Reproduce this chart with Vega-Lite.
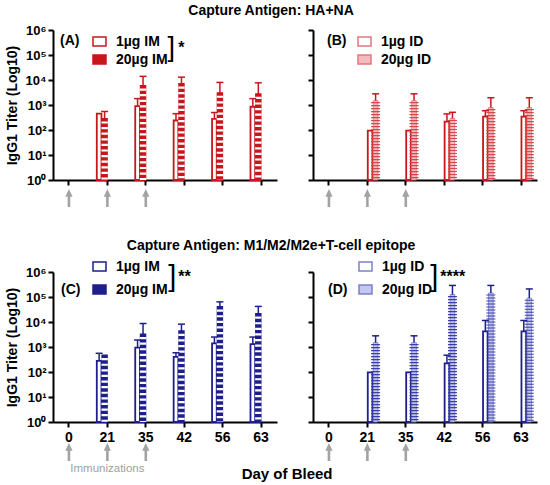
{
  "$schema": "https://vega.github.io/schema/vega-lite/v6.json",
  "background": "white",
  "padding": {"left": 5, "right": 2, "top": 4, "bottom": 4},
  "config": {
    "view": {"stroke": null},
    "font": "Liberation Sans",
    "axis": {
      "grid": false,
      "domainColor": "black",
      "domainWidth": 2,
      "tickColor": "black",
      "tickWidth": 2,
      "tickSize": 5,
      "labelColor": "black",
      "labelFont": "Liberation Sans",
      "labelFontWeight": "bold",
      "labelFontSize": 13,
      "titleColor": "black",
      "titleFont": "Liberation Sans",
      "titleFontSize": 14,
      "titleFontWeight": "bold"
    },
    "legend": {
      "orient": "none",
      "titleOrient": "left",
      "titleFont": "Liberation Sans",
      "titleFontSize": 14,
      "titleFontWeight": "bold",
      "titleColor": "black",
      "labelFont": "Liberation Sans",
      "labelFontSize": 14,
      "labelFontWeight": "bold",
      "labelColor": "black",
      "labelOffset": 9,
      "symbolSize": 169,
      "symbolType": "M-1,-0.7H1V0.7H-1Z"
    }
  },
  "title": {"text": "Day of Bleed", "orient": "bottom", "anchor": "middle", "fontSize": 15, "fontWeight": "bold", "color": "black", "offset": -8, "dx": 16},
  "datasets": {
    "titers": [
      {"panel": "A", "day": "21", "dose": "1µg IM", "v": 450, "e": null},
      {"panel": "A", "day": "21", "dose": "20µg IM", "v": 280, "e": 550},
      {"panel": "A", "day": "35", "dose": "1µg IM", "v": 900, "e": 1800},
      {"panel": "A", "day": "35", "dose": "20µg IM", "v": 5800, "e": 14000},
      {"panel": "A", "day": "42", "dose": "1µg IM", "v": 240, "e": 450},
      {"panel": "A", "day": "42", "dose": "20µg IM", "v": 7000, "e": 13000},
      {"panel": "A", "day": "56", "dose": "1µg IM", "v": 280, "e": 500},
      {"panel": "A", "day": "56", "dose": "20µg IM", "v": 3000, "e": 8000},
      {"panel": "A", "day": "63", "dose": "1µg IM", "v": 850, "e": 1800},
      {"panel": "A", "day": "63", "dose": "20µg IM", "v": 2700, "e": 7700},
      {"panel": "B", "day": "21", "dose": "1µg ID", "v": 95, "e": null},
      {"panel": "B", "day": "21", "dose": "20µg ID", "v": 1500, "e": 2800},
      {"panel": "B", "day": "35", "dose": "1µg ID", "v": 95, "e": null},
      {"panel": "B", "day": "35", "dose": "20µg ID", "v": 1500, "e": 2800},
      {"panel": "B", "day": "42", "dose": "1µg ID", "v": 215, "e": 440},
      {"panel": "B", "day": "42", "dose": "20µg ID", "v": 290, "e": 510},
      {"panel": "B", "day": "56", "dose": "1µg ID", "v": 340, "e": 590},
      {"panel": "B", "day": "56", "dose": "20µg ID", "v": 790, "e": 1950},
      {"panel": "B", "day": "63", "dose": "1µg ID", "v": 340, "e": 590},
      {"panel": "B", "day": "63", "dose": "20µg ID", "v": 790, "e": 1950},
      {"panel": "C", "day": "21", "dose": "1µg IM", "v": 280, "e": 560},
      {"panel": "C", "day": "21", "dose": "20µg IM", "v": 460, "e": null},
      {"panel": "C", "day": "35", "dose": "1µg IM", "v": 950, "e": 1900},
      {"panel": "C", "day": "35", "dose": "20µg IM", "v": 3200, "e": 8700},
      {"panel": "C", "day": "42", "dose": "1µg IM", "v": 400, "e": 590},
      {"panel": "C", "day": "42", "dose": "20µg IM", "v": 4300, "e": 8200},
      {"panel": "C", "day": "56", "dose": "1µg IM", "v": 1400, "e": 2500},
      {"panel": "C", "day": "56", "dose": "20µg IM", "v": 40000, "e": 64000},
      {"panel": "C", "day": "63", "dose": "1µg IM", "v": 1300, "e": 2500},
      {"panel": "C", "day": "63", "dose": "20µg IM", "v": 21000, "e": 42000},
      {"panel": "D", "day": "21", "dose": "1µg ID", "v": 96, "e": null},
      {"panel": "D", "day": "21", "dose": "20µg ID", "v": 1500, "e": 2800},
      {"panel": "D", "day": "35", "dose": "1µg ID", "v": 96, "e": null},
      {"panel": "D", "day": "35", "dose": "20µg ID", "v": 1500, "e": 2800},
      {"panel": "D", "day": "42", "dose": "1µg ID", "v": 220, "e": 470},
      {"panel": "D", "day": "42", "dose": "20µg ID", "v": 125000, "e": 290000},
      {"panel": "D", "day": "56", "dose": "1µg ID", "v": 4200, "e": 11500},
      {"panel": "D", "day": "56", "dose": "20µg ID", "v": 145000, "e": 290000},
      {"panel": "D", "day": "63", "dose": "1µg ID", "v": 4200, "e": 11500},
      {"panel": "D", "day": "63", "dose": "20µg ID", "v": 90000, "e": 210000}
    ]
  },
  "data": {"name": "titers"},
  "resolve": {"scale": {"fill": "independent"}, "legend": {"fill": "independent"}},
  "spacing": 31,
  "vconcat": [
    {
      "title": {"text": "Capture Antigen: HA+NA", "anchor": "middle", "fontSize": 14, "fontWeight": "bold", "color": "black", "offset": 6},
      "resolve": {"scale": {"fill": "independent"}, "legend": {"fill": "independent"}},
      "spacing": 30,
      "hconcat": [
        {
          "width": 224,
          "height": 150,
          "layer": [
            {
              "transform": [{"filter": "datum.panel === 'A'"}],
              "mark": {"type": "bar", "stroke": "#c8161d", "strokeWidth": 1.8},
              "encoding": {
                "x": {"field": "day", "type": "ordinal", "scale": {"domain": ["0", "21", "35", "42", "56", "63"], "paddingInner": 0.45, "paddingOuter": 0.14}, "axis": {"title": null, "labels": false}},
                "xOffset": {"field": "dose", "type": "nominal", "scale": {"domain": ["1µg IM", "20µg IM"], "paddingInner": 0.15}},
                "y": {"field": "v", "type": "quantitative", "scale": {"type": "log", "domain": [1, 1000000]}, "axis": {"values": [1, 10, 100, 1000, 10000, 100000, 1000000], "labelExpr": "'10' + ['⁰','¹','²','³','⁴','⁵','⁶'][round(log(datum.value) / LN10)]", "title": "IgG1 Titer (Log10)", "titlePadding": 6}},
                "y2": {"datum": 1},
                "fill": {
                  "field": "dose", "type": "nominal",
                  "scale": {"domain": ["1µg IM", "20µg IM"], "range": ["white", "#c8161d"]},
                  "legend": {"title": "(A)", "legendX": 7, "legendY": 4, "titleAnchor": "start", "titlePadding": 12, "rowPadding": 1}
                }
              }
            },
            {
              "transform": [{"filter": "datum.panel === 'A' && datum.dose === '20µg IM'"}],
              "mark": {"type": "rule", "color": "white", "strokeWidth": 6.4, "strokeDash": [2.2, 3.4], "strokeDashOffset": 3},
              "encoding": {
                "x": {"field": "day", "type": "ordinal"},
                "xOffset": {"field": "dose", "type": "nominal"},
                "y": {"field": "v", "type": "quantitative"},
                "y2": {"datum": 1}
              }
            },
            {
              "transform": [{"filter": "datum.panel === 'A' && datum.e != null"}],
              "mark": {"type": "rule", "color": "#c8161d", "strokeWidth": 1.5},
              "encoding": {
                "x": {"field": "day", "type": "ordinal"},
                "xOffset": {"field": "dose", "type": "nominal"},
                "y": {"field": "v", "type": "quantitative"},
                "y2": {"field": "e"}
              }
            },
            {
              "transform": [{"filter": "datum.panel === 'A' && datum.e != null"}],
              "mark": {"type": "tick", "orient": "horizontal", "color": "#c8161d", "size": 7, "thickness": 1.5, "opacity": 1},
              "encoding": {
                "x": {"field": "day", "type": "ordinal"},
                "xOffset": {"field": "dose", "type": "nominal"},
                "y": {"field": "e", "type": "quantitative"}
              }
            },
            {
              "data": {"values": [{"day": "0"}, {"day": "21"}, {"day": "35"}]},
              "mark": {"type": "point", "shape": "arrow", "filled": true, "color": "#a3a3a3", "opacity": 1, "size": 330, "yOffset": 18},
              "encoding": {"x": {"field": "day", "type": "ordinal"}, "y": {"datum": 1}}
            },
            {
              "data": {"values": [{}]},
              "mark": {"type": "text", "text": "]", "fontSize": 27, "align": "center", "baseline": "middle", "color": "black", "dx": -13},
              "encoding": {"x": {"datum": "42", "type": "ordinal"}, "y": {"datum": 190000}}
            },
            {
              "data": {"values": [{}]},
              "mark": {"type": "text", "text": "*", "fontSize": 16, "fontWeight": "bold", "align": "left", "baseline": "middle", "color": "black", "dx": -6},
              "encoding": {"x": {"datum": "42", "type": "ordinal"}, "y": {"datum": 190000}}
            }
          ]
        },
        {
          "width": 224,
          "height": 150,
          "layer": [
            {
              "transform": [{"filter": "datum.panel === 'B'"}],
              "mark": {"type": "bar"},
              "encoding": {
                "x": {"field": "day", "type": "ordinal", "scale": {"domain": ["0", "21", "35", "42", "56", "63"], "paddingInner": 0.45, "paddingOuter": 0.14}, "axis": {"title": null, "labels": false}},
                "xOffset": {"field": "dose", "type": "nominal", "scale": {"domain": ["1µg ID", "20µg ID"], "paddingInner": 0.15}},
                "y": {"field": "v", "type": "quantitative", "scale": {"type": "log", "domain": [1, 1000000]}, "axis": {"values": [1, 10, 100, 1000, 10000, 100000, 1000000], "labels": false, "title": null}},
                "y2": {"datum": 1},
                "stroke": {"condition": {"test": "datum.dose === '1µg ID'", "value": "#c8161d"}, "value": "#e07a7e"},
                "strokeWidth": {"condition": {"test": "datum.dose === '1µg ID'", "value": 1.8}, "value": 0.8},
                "fill": {
                  "field": "dose", "type": "nominal",
                  "scale": {"domain": ["1µg ID", "20µg ID"], "range": ["white", "#f2bcbe"]},
                  "legend": {"title": "(B)", "legendX": 14, "legendY": 4, "titleAnchor": "start", "titlePadding": 10, "rowPadding": 1}
                }
              }
            },
            {
              "transform": [{"filter": "datum.panel === 'B' && datum.dose === '20µg ID'"}],
              "mark": {"type": "rule", "color": "#d4474c", "strokeWidth": 9, "strokeDash": [1.1, 1.9], "strokeDashOffset": 1.5},
              "encoding": {
                "x": {"field": "day", "type": "ordinal"},
                "xOffset": {"field": "dose", "type": "nominal"},
                "y": {"field": "v", "type": "quantitative"},
                "y2": {"datum": 1}
              }
            },
            {
              "transform": [{"filter": "datum.panel === 'B' && datum.e != null"}],
              "mark": {"type": "rule", "color": "#c8161d", "strokeWidth": 1.5},
              "encoding": {
                "x": {"field": "day", "type": "ordinal"},
                "xOffset": {"field": "dose", "type": "nominal"},
                "y": {"field": "v", "type": "quantitative"},
                "y2": {"field": "e"}
              }
            },
            {
              "transform": [{"filter": "datum.panel === 'B' && datum.e != null"}],
              "mark": {"type": "tick", "orient": "horizontal", "color": "#c8161d", "size": 7, "thickness": 1.5, "opacity": 1},
              "encoding": {
                "x": {"field": "day", "type": "ordinal"},
                "xOffset": {"field": "dose", "type": "nominal"},
                "y": {"field": "e", "type": "quantitative"}
              }
            },
            {
              "data": {"values": [{"day": "0"}, {"day": "21"}, {"day": "35"}]},
              "mark": {"type": "point", "shape": "arrow", "filled": true, "color": "#a3a3a3", "opacity": 1, "size": 330, "yOffset": 18},
              "encoding": {"x": {"field": "day", "type": "ordinal"}, "y": {"datum": 1}}
            }
          ]
        }
      ]
    },
    {
      "title": {"text": "Capture Antigen: M1/M2/M2e+T-cell epitope", "anchor": "middle", "fontSize": 14, "fontWeight": "bold", "color": "black", "offset": 6},
      "resolve": {"scale": {"fill": "independent"}, "legend": {"fill": "independent"}},
      "spacing": 30,
      "hconcat": [
        {
          "width": 224,
          "height": 150,
          "layer": [
            {
              "transform": [{"filter": "datum.panel === 'C'"}],
              "mark": {"type": "bar", "stroke": "#1e1e8c", "strokeWidth": 1.8},
              "encoding": {
                "x": {"field": "day", "type": "ordinal", "scale": {"domain": ["0", "21", "35", "42", "56", "63"], "paddingInner": 0.45, "paddingOuter": 0.14}, "axis": {"title": null, "labelAngle": 0, "labelFontSize": 14, "labelPadding": 3}},
                "xOffset": {"field": "dose", "type": "nominal", "scale": {"domain": ["1µg IM", "20µg IM"], "paddingInner": 0.15}},
                "y": {"field": "v", "type": "quantitative", "scale": {"type": "log", "domain": [1, 1000000]}, "axis": {"values": [1, 10, 100, 1000, 10000, 100000, 1000000], "labelExpr": "'10' + ['⁰','¹','²','³','⁴','⁵','⁶'][round(log(datum.value) / LN10)]", "title": "IgG1 Titer (Log10)", "titlePadding": 6}},
                "y2": {"datum": 1},
                "fill": {
                  "field": "dose", "type": "nominal",
                  "scale": {"domain": ["1µg IM", "20µg IM"], "range": ["white", "#1e1e8c"]},
                  "legend": {"title": "(C)", "legendX": 8, "legendY": -13, "titleAnchor": "end", "titlePadding": 11, "rowPadding": 6}
                }
              }
            },
            {
              "transform": [{"filter": "datum.panel === 'C' && datum.dose === '20µg IM'"}],
              "mark": {"type": "rule", "color": "white", "strokeWidth": 6.4, "strokeDash": [2.2, 3.4], "strokeDashOffset": 3},
              "encoding": {
                "x": {"field": "day", "type": "ordinal"},
                "xOffset": {"field": "dose", "type": "nominal"},
                "y": {"field": "v", "type": "quantitative"},
                "y2": {"datum": 1}
              }
            },
            {
              "transform": [{"filter": "datum.panel === 'C' && datum.e != null"}],
              "mark": {"type": "rule", "color": "#1e1e8c", "strokeWidth": 1.5},
              "encoding": {
                "x": {"field": "day", "type": "ordinal"},
                "xOffset": {"field": "dose", "type": "nominal"},
                "y": {"field": "v", "type": "quantitative"},
                "y2": {"field": "e"}
              }
            },
            {
              "transform": [{"filter": "datum.panel === 'C' && datum.e != null"}],
              "mark": {"type": "tick", "orient": "horizontal", "color": "#1e1e8c", "size": 7, "thickness": 1.5, "opacity": 1},
              "encoding": {
                "x": {"field": "day", "type": "ordinal"},
                "xOffset": {"field": "dose", "type": "nominal"},
                "y": {"field": "e", "type": "quantitative"}
              }
            },
            {
              "data": {"values": [{"day": "0"}, {"day": "21"}, {"day": "35"}]},
              "mark": {"type": "point", "shape": "arrow", "filled": true, "color": "#a3a3a3", "opacity": 1, "size": 330, "yOffset": 30},
              "encoding": {"x": {"field": "day", "type": "ordinal"}, "y": {"datum": 1}}
            },
            {
              "data": {"values": [{}]},
              "mark": {"type": "text", "text": "Immunizations", "fontSize": 11.5, "color": "#a0a0a0", "align": "center", "baseline": "middle", "yOffset": 47},
              "encoding": {"x": {"datum": "21", "type": "ordinal"}, "y": {"datum": 1}}
            },
            {
              "data": {"values": [{}]},
              "mark": {"type": "text", "text": "]", "fontSize": 29, "align": "center", "baseline": "middle", "color": "black", "dx": -12},
              "encoding": {"x": {"datum": "42", "type": "ordinal"}, "y": {"datum": 630000}}
            },
            {
              "data": {"values": [{}]},
              "mark": {"type": "text", "text": "**", "fontSize": 16, "fontWeight": "bold", "align": "left", "baseline": "middle", "color": "black", "dx": -6},
              "encoding": {"x": {"datum": "42", "type": "ordinal"}, "y": {"datum": 630000}}
            }
          ]
        },
        {
          "width": 224,
          "height": 150,
          "layer": [
            {
              "transform": [{"filter": "datum.panel === 'D'"}],
              "mark": {"type": "bar"},
              "encoding": {
                "x": {"field": "day", "type": "ordinal", "scale": {"domain": ["0", "21", "35", "42", "56", "63"], "paddingInner": 0.45, "paddingOuter": 0.14}, "axis": {"title": null, "labelAngle": 0, "labelFontSize": 14, "labelPadding": 3}},
                "xOffset": {"field": "dose", "type": "nominal", "scale": {"domain": ["1µg ID", "20µg ID"], "paddingInner": 0.15}},
                "y": {"field": "v", "type": "quantitative", "scale": {"type": "log", "domain": [1, 1000000]}, "axis": {"values": [1, 10, 100, 1000, 10000, 100000, 1000000], "labels": false, "title": null}},
                "y2": {"datum": 1},
                "stroke": {"condition": {"test": "datum.dose === '1µg ID'", "value": "#1e1e8c"}, "value": "#7d80c8"},
                "strokeWidth": {"condition": {"test": "datum.dose === '1µg ID'", "value": 1.8}, "value": 0.8},
                "fill": {
                  "field": "dose", "type": "nominal",
                  "scale": {"domain": ["1µg ID", "20µg ID"], "range": ["white", "#c3c6ee"]},
                  "legend": {"title": "(D)", "legendX": 15, "legendY": -13, "titleAnchor": "end", "titlePadding": 10, "rowPadding": 6}
                }
              }
            },
            {
              "transform": [{"filter": "datum.panel === 'D' && datum.dose === '20µg ID'"}],
              "mark": {"type": "rule", "color": "#3b40a8", "strokeWidth": 9, "strokeDash": [1.1, 1.9], "strokeDashOffset": 1.5},
              "encoding": {
                "x": {"field": "day", "type": "ordinal"},
                "xOffset": {"field": "dose", "type": "nominal"},
                "y": {"field": "v", "type": "quantitative"},
                "y2": {"datum": 1}
              }
            },
            {
              "transform": [{"filter": "datum.panel === 'D' && datum.e != null"}],
              "mark": {"type": "rule", "color": "#1e1e8c", "strokeWidth": 1.5},
              "encoding": {
                "x": {"field": "day", "type": "ordinal"},
                "xOffset": {"field": "dose", "type": "nominal"},
                "y": {"field": "v", "type": "quantitative"},
                "y2": {"field": "e"}
              }
            },
            {
              "transform": [{"filter": "datum.panel === 'D' && datum.e != null"}],
              "mark": {"type": "tick", "orient": "horizontal", "color": "#1e1e8c", "size": 7, "thickness": 1.5, "opacity": 1},
              "encoding": {
                "x": {"field": "day", "type": "ordinal"},
                "xOffset": {"field": "dose", "type": "nominal"},
                "y": {"field": "e", "type": "quantitative"}
              }
            },
            {
              "data": {"values": [{"day": "0"}, {"day": "21"}, {"day": "35"}]},
              "mark": {"type": "point", "shape": "arrow", "filled": true, "color": "#a3a3a3", "opacity": 1, "size": 330, "yOffset": 30},
              "encoding": {"x": {"field": "day", "type": "ordinal"}, "y": {"datum": 1}}
            },
            {
              "data": {"values": [{}]},
              "mark": {"type": "text", "text": "]", "fontSize": 29, "align": "center", "baseline": "middle", "color": "black", "dx": -10},
              "encoding": {"x": {"datum": "42", "type": "ordinal"}, "y": {"datum": 630000}}
            },
            {
              "data": {"values": [{}]},
              "mark": {"type": "text", "text": "****", "fontSize": 16, "fontWeight": "bold", "align": "left", "baseline": "middle", "color": "black", "dx": -4},
              "encoding": {"x": {"datum": "42", "type": "ordinal"}, "y": {"datum": 630000}}
            }
          ]
        }
      ]
    }
  ]
}
